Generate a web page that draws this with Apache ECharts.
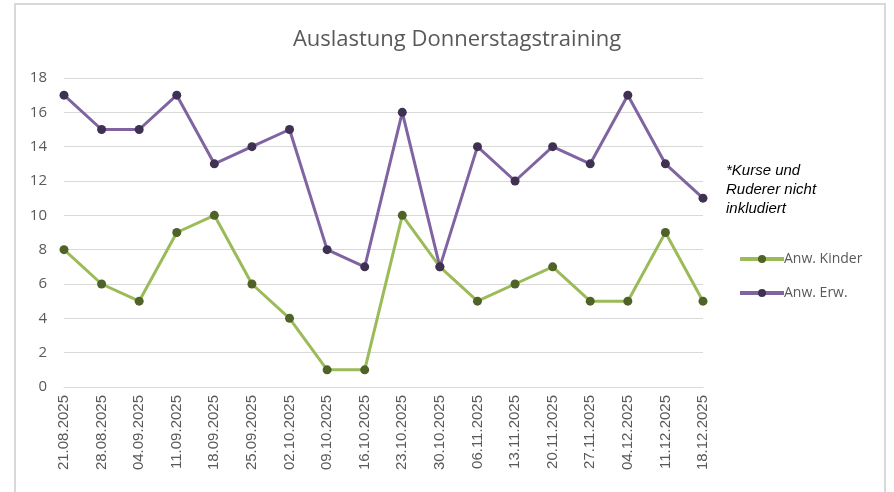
<!DOCTYPE html>
<html>
<head>
<meta charset="utf-8">
<script src="https://cdn.jsdelivr.net/npm/echarts@6/dist/echarts.min.js"></script>
<style>
  html, body { margin: 0; padding: 0; background: #fff; }
  #frame { position: absolute; left: 14px; top: 3px; width: 872px; height: 495px;
           border: 2px solid #d9d9d9; border-bottom: none; box-sizing: border-box; }
  #chart { position: absolute; left: 0; top: 0; width: 894px; height: 492px; }
</style>
</head>
<body>
<div id="frame"></div>
<div id="chart"></div>
<script>
// Termine (Donnerstage)
var dates = ['21.08.2025', '28.08.2025', '04.09.2025', '11.09.2025', '18.09.2025', '25.09.2025',
  '02.10.2025', '09.10.2025', '16.10.2025', '23.10.2025', '30.10.2025', '06.11.2025',
  '13.11.2025', '20.11.2025', '27.11.2025', '04.12.2025', '11.12.2025', '18.12.2025']
var kinder = [8, 6, 5, 9, 10, 6, 4, 1, 1, 10, 7, 5, 6, 7, 5, 5, 9, 5]
var erwachsene = [17, 15, 15, 17, 13, 14, 15, 8, 7, 16, 7, 14, 12, 14, 13, 17, 13, 11]
var yTicks = [0, 2, 4, 6, 8, 10, 12, 14, 16, 18]

var chart = echarts.init(document.getElementById('chart'))
chart.setOption({
  animation: false,
  textStyle: { fontFamily: 'Open Sans, sans-serif' },
  title: {
    text: 'Auslastung Donnerstagstraining',
    left: 452,
    top: 24,
    textAlign: 'center',
    textStyle: { fontSize: 22, fontWeight: 'normal', color: '#595959', fontFamily: 'Open Sans, sans-serif' }
  },
  legend: {
    orient: 'vertical',
    left: 733,
    top: 247,
    itemWidth: 44,
    itemHeight: 10,
    itemGap: 20,
    lineStyle: { width: 4 },
    textStyle: { fontSize: 14, color: '#595959', padding: [0, 0, 0, -5] },
    data: ['Anw. Kinder', 'Anw. Erw.']
  },
  graphic: [{
    type: 'text',
    left: 726,
    top: 161,
    style: {
      text: '*Kurse und\nRuderer nicht\ninkludiert',
      font: 'italic 15px "Liberation Sans", Arial, sans-serif',
      fill: '#000',
      lineHeight: 19
    }
  }],
  grid: { left: 64, right: 191, top: 78, bottom: 105 },
  xAxis: {
    type: 'category',
    boundaryGap: false,
    data: dates,
    axisLine: { lineStyle: { color: '#d9d9d9' } },
    axisTick: { show: false },
    axisLabel: { rotate: 90, color: '#595959', fontSize: 15, margin: 8, fontFamily: 'Liberation Sans, Arial, sans-serif' }
  },
  yAxis: {
    type: 'value',
    min: yTicks[0],
    max: yTicks[yTicks.length - 1],
    interval: 2,
    axisLine: { show: false },
    axisTick: { show: false },
    axisLabel: { color: '#595959', fontSize: 15, margin: 17 },
    splitLine: { lineStyle: { color: '#d9d9d9', width: 1 } }
  },
  series: [
    {
      name: 'Anw. Kinder',
      type: 'line',
      data: kinder,
      symbol: 'circle',
      symbolSize: 9,
      lineStyle: { color: '#9bbb59', width: 3 },
      itemStyle: { color: '#4f6228', borderWidth: 0 }
    },
    {
      name: 'Anw. Erw.',
      type: 'line',
      data: erwachsene,
      symbol: 'circle',
      symbolSize: 9,
      lineStyle: { color: '#8064a2', width: 3 },
      itemStyle: { color: '#3f3151', borderWidth: 0 }
    }
  ]
})
</script>
</body>
</html>
